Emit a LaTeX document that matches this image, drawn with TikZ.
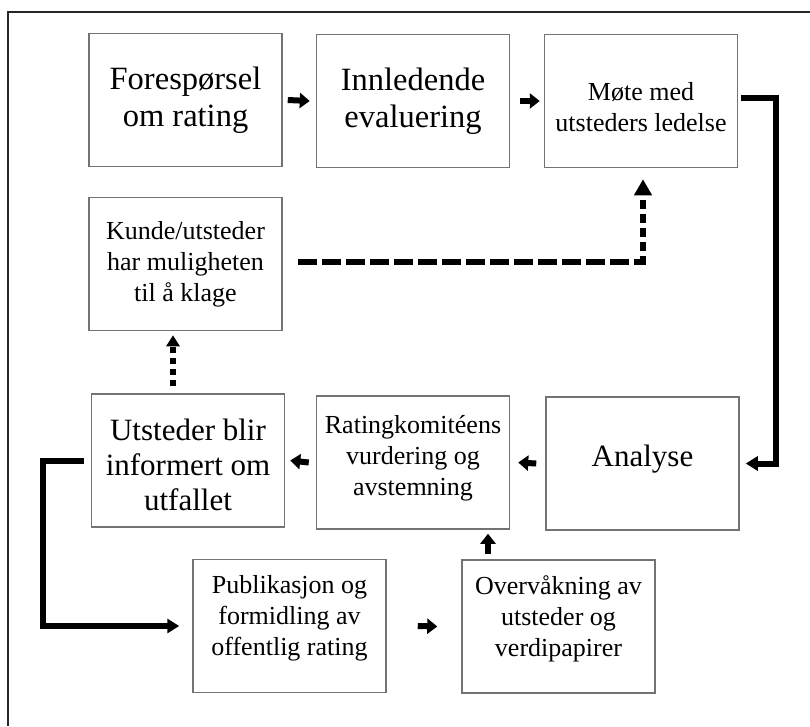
\documentclass[tikz,border=0pt]{standalone}
\usepackage{fontspec}
\setmainfont{Liberation Serif}
\usetikzlibrary{arrows.meta,calc}
\begin{document}
\begin{tikzpicture}[x=1pt,y=-1pt,
  box/.style={draw=black!55, line width=1.5pt, minimum width=193pt, minimum height=133pt, inner sep=0pt},
  thuge/.style={align=center, inner sep=0pt, font=\fontsize{32.5}{37}\selectfont},
  tbig/.style={align=center, inner sep=0pt, font=\fontsize{31}{35}\selectfont},
  tsmall/.style={align=center, inner sep=0pt, font=\fontsize{26}{31}\selectfont},
  sarr/.style={line width=6pt, -{Triangle[length=10pt,width=15pt]}},
  barr/.style={line width=6pt, -{Triangle[length=12pt,width=14pt]}},
  dashh/.style={line width=6pt, dash pattern=on 19pt off 5pt},
  dashv/.style={line width=6pt, dash pattern=on 9pt off 5pt, -{Triangle[length=16pt,width=17pt]}},
  dotarr/.style={line width=6pt, dash pattern=on 6pt off 5pt, -{Triangle[length=11pt,width=13pt]}},
  frame/.style={draw=black!85, line width=1.3pt}
]
\useasboundingbox (0,0) rectangle (810,726);
\draw[frame] (8,726) -- (8,12) -- (810,12);

% boxes
\node[box] (b1) at (185.5,100) {};
\node[box] (b2) at (413,101) {};
\node[box] (b3) at (641,101) {};
\node[box] (b4) at (185.5,264) {};
\node[box] (b5) at (188,460.5) {};
\node[box] (b6) at (413,462.5) {};
\node[box] (b7) at (642.5,463.5) {};
\node[box] (b8) at (289.5,626) {};
\node[box] (b9) at (558.5,626.5) {};

% texts
\node[thuge] (t1) at (b1.center) {Forespørsel\\om rating};
\node[thuge] (t2) at (b2.center) {Innledende\\evaluering};
\node[tsmall] (t3) at ([yshift=-6pt]b3.center) {Møte med\\utsteders ledelse};
\node[tsmall] (t4) at (b4.center) {Kunde/utsteder\\har muligheten\\til å klage\hspace{9pt}};
\node[tbig] (t5) at ([yshift=-4pt]b5.center) {Utsteder blir\\informert om\\utfallet};
\node[tsmall] (t6) at ([yshift=4pt]b6.center) {Ratingkomitéens\\vurdering og\\avstemning};
\node[tbig] (t7) at ([yshift=4pt]b7.center) {Analyse};
\node[tsmall] (t8) at ([yshift=8pt]b8.center) {Publikasjon og\\formidling av\\offentlig rating};
\node[tsmall] (t9) at ([yshift=8pt]b9.center) {Overvåkning av\\utsteder og\\verdipapirer};

% small arrows
\draw[sarr] ([xshift=5pt]b1.east) -- ([xshift=-6pt]b2.west);
\draw[sarr] ([xshift=10pt]b2.east) -- ([xshift=-4pt]b3.west);
\draw[sarr] ([xshift=-9pt]b7.west) -- ([xshift=8pt]b6.east);
\draw[sarr] ([xshift=-7pt]b6.west) -- ([xshift=5pt]b5.east);
\draw[sarr] ([xshift=31pt]b8.east) -- ([xshift=-24pt]b9.west);
\coordinate (ux) at (488,0);
\draw[sarr] ($(b9.north -| ux)+(0,-5)$) -- ($(b6.south -| ux)+(0,4)$);

% big connectors
\draw[barr] ([xshift=3pt,yshift=3pt]b3.east) -- ++(35,0) |- ([xshift=6pt]b7.east);
\draw[barr] ([xshift=-7pt]b5.west) -- ++(-41,0) |- ([xshift=-13pt]b8.west);

% dotted
\coordinate (dx) at (173,0);
\draw[dotarr] ($(b5.north -| dx)+(0,-7)$) -- ($(b4.south -| dx)+(0,4)$);

% dashed
\coordinate (dc) at ([xshift=2pt,yshift=2pt]b4.east -| b3.south);
\draw[dashh] ([xshift=15pt,yshift=2pt]b4.east) -- (dc);
\draw[dashv] ($(dc)+(0,3)$) -- ($(b3.south -| dc)+(0,11)$);
\end{tikzpicture}
\end{document}
